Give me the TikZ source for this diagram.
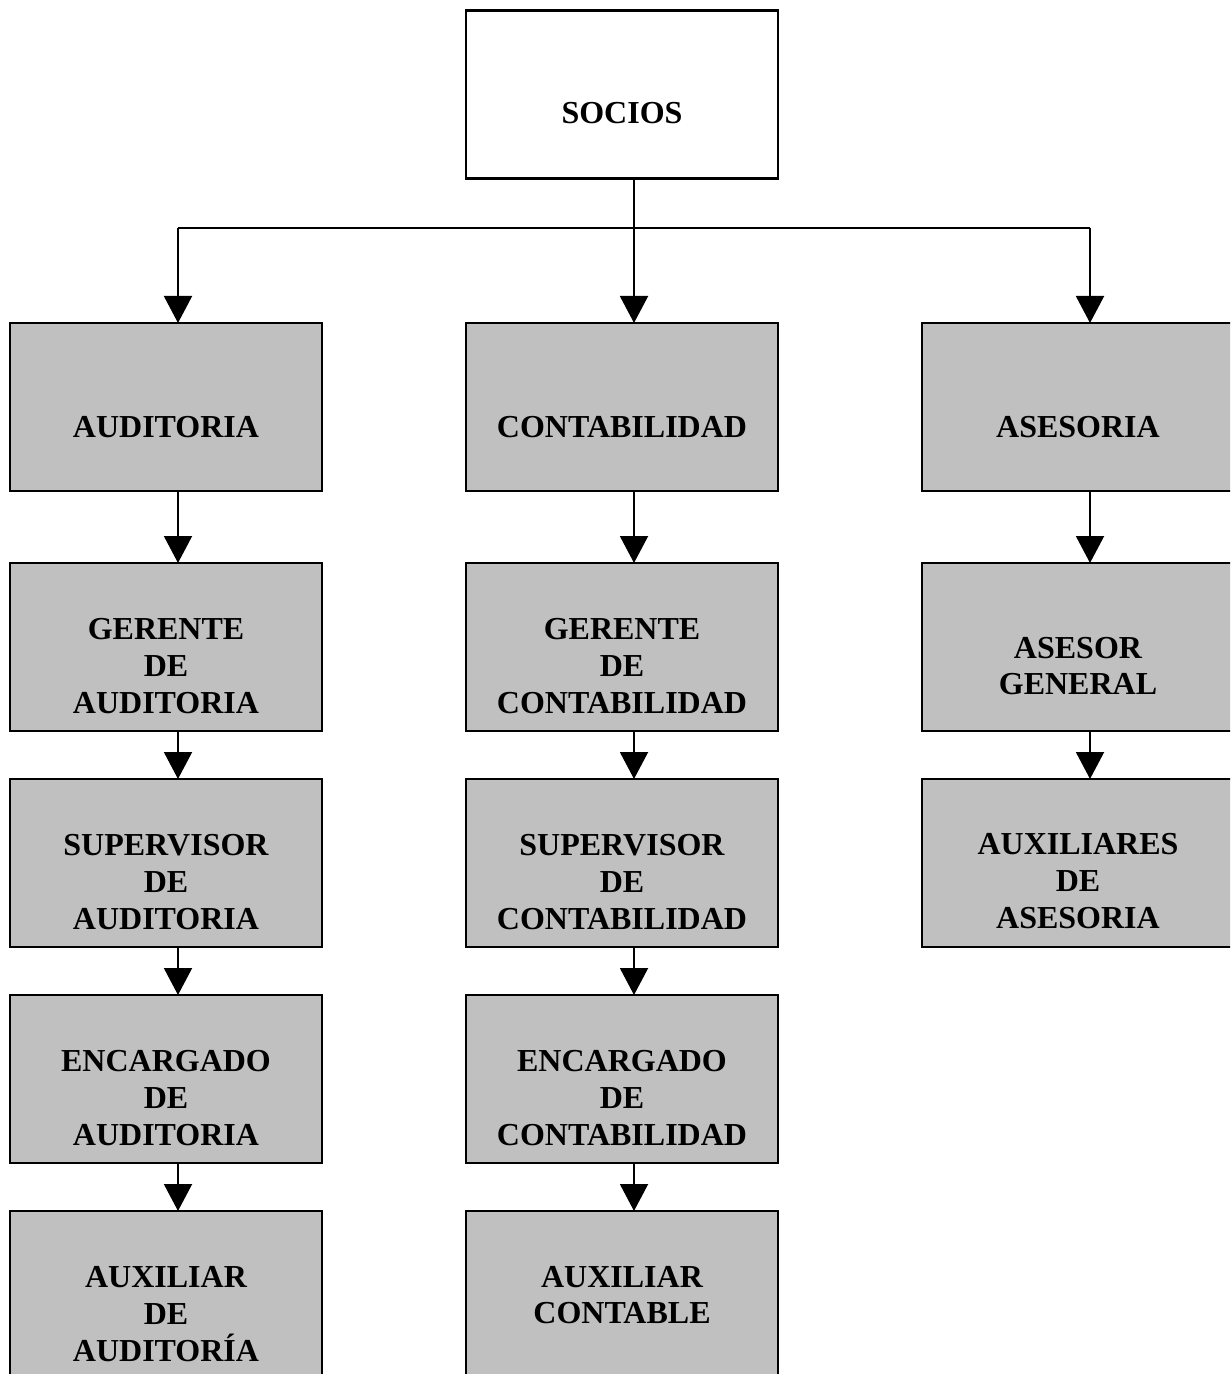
\documentclass[tikz,border=0pt]{standalone}
\usepackage{fontspec}
\setmainfont{Liberation Serif}
\usetikzlibrary{arrows.meta}
\definecolor{boxgray}{RGB}{192,192,192}
\tikzset{
  caja/.style={draw, line width=1.2pt, rectangle, inner sep=0pt, outer sep=0pt,
    minimum width=156pt, minimum height=84pt, fill=boxgray},
  cajablanca/.style={caja, fill=white},
  texto/.style={align=center, inner sep=0pt, font=\fontsize{16}{18.3}\selectfont\bfseries},
  flecha/.style={line width=1pt, -{Triangle[length=13.5pt,width=14pt]}},
}
\begin{document}
\begin{tikzpicture}[x=0.5pt, y=0.5pt, yscale=-1, xscale=1]
\clip (0,0) rectangle (1230,1374);
% cajas
\node[cajablanca] (socios) at (622,94.5) {};
\node[caja] (aud) at (166,407) {};
\node[caja] (cont) at (622,407) {};
\node[caja] (ases) at (1078,407) {};
\node[caja] (geraud) at (166,647) {};
\node[caja] (gercont) at (622,647) {};
\node[caja] (asesgen) at (1078,647) {};
\node[caja] (supaud) at (166,863) {};
\node[caja] (supcont) at (622,863) {};
\node[caja] (auxases) at (1078,863) {};
\node[caja] (encaud) at (166,1079) {};
\node[caja] (enccont) at (622,1079) {};
\node[caja] (auxaud) at (166,1295) {};
\node[caja] (auxcont) at (622,1295) {};
% textos
\node[texto] at ([yshift=9.5pt]socios.center) {SOCIOS};
\node[texto] at ([yshift=10pt]aud.center) {AUDITORIA};
\node[texto] at ([yshift=10pt]cont.center) {CONTABILIDAD};
\node[texto] at ([yshift=10pt]ases.center) {ASESORIA};
\node[texto] at ([yshift=9.5pt]geraud.center) {GERENTE\\DE\\AUDITORIA};
\node[texto] at ([yshift=9.5pt]gercont.center) {GERENTE\\DE\\CONTABILIDAD};
\node[texto] at ([yshift=9.5pt]asesgen.center) {ASESOR\\GENERAL};
\node[texto] at ([yshift=9.5pt]supaud.center) {SUPERVISOR\\DE\\AUDITORIA};
\node[texto] at ([yshift=9.5pt]supcont.center) {SUPERVISOR\\DE\\CONTABILIDAD};
\node[texto] at ([yshift=9pt]auxases.center) {AUXILIARES\\DE\\ASESORIA};
\node[texto] at ([yshift=9.5pt]encaud.center) {ENCARGADO\\DE\\AUDITORIA};
\node[texto] at ([yshift=9.5pt]enccont.center) {ENCARGADO\\DE\\CONTABILIDAD};
\node[texto] at ([yshift=9.5pt]auxaud.center) {AUXILIAR\\DE\\AUDITORÍA};
\node[texto] at (auxcont.center) {AUXILIAR\\CONTABLE};
% conectores
\coordinate (jizq) at (178,228);
\coordinate (jder) at (1090,228);
\draw[line width=1pt] (jizq) -- (jder);
\draw[flecha] ([xshift=6pt]socios.south) -- ([xshift=6pt]cont.north);
\draw[flecha] (jizq) -- ([xshift=6pt]aud.north);
\draw[flecha] (jder) -- ([xshift=6pt]ases.north);
\draw[flecha] ([xshift=6pt]aud.south) -- ([xshift=6pt]geraud.north);
\draw[flecha] ([xshift=6pt]geraud.south) -- ([xshift=6pt]supaud.north);
\draw[flecha] ([xshift=6pt]supaud.south) -- ([xshift=6pt]encaud.north);
\draw[flecha] ([xshift=6pt]encaud.south) -- ([xshift=6pt]auxaud.north);
\draw[flecha] ([xshift=6pt]cont.south) -- ([xshift=6pt]gercont.north);
\draw[flecha] ([xshift=6pt]gercont.south) -- ([xshift=6pt]supcont.north);
\draw[flecha] ([xshift=6pt]supcont.south) -- ([xshift=6pt]enccont.north);
\draw[flecha] ([xshift=6pt]enccont.south) -- ([xshift=6pt]auxcont.north);
\draw[flecha] ([xshift=6pt]ases.south) -- ([xshift=6pt]asesgen.north);
\draw[flecha] ([xshift=6pt]asesgen.south) -- ([xshift=6pt]auxases.north);
\end{tikzpicture}
\end{document}
